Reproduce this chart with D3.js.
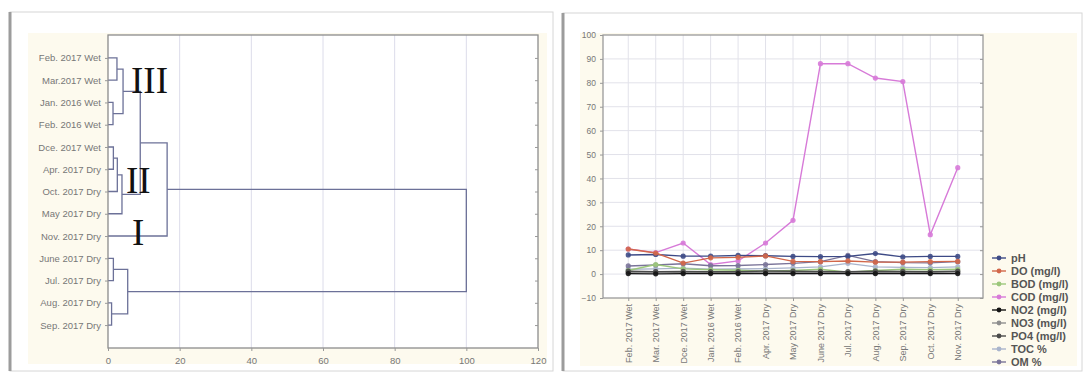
<!DOCTYPE html>
<html>
<head>
<meta charset="utf-8">
<script src="https://cdn.jsdelivr.net/npm/d3@7/dist/d3.min.js"></script>
<style>
  html, body { margin: 0; padding: 0; background: #fff; }
  svg text { font-family: "Liberation Sans", Arial, sans-serif; }
</style>
</head>
<body>
<svg id="chart" width="1085" height="380"></svg>
<script>
// ---------- Dendrogram data ----------
const leafLabels = [
  "Feb. 2017 Wet", "Mar.2017 Wet", "Jan. 2016 Wet", "Feb. 2016 Wet",
  "Dce. 2017 Wet", "Apr. 2017 Dry", "Oct. 2017 Dry", "May 2017 Dry",
  "Nov. 2017 Dry", "June 2017 Dry", "Jul. 2017 Dry", "Aug. 2017 Dry", "Sep. 2017 Dry"
];
// merge steps: [child A, child B, linkage distance]; ids >= 13 refer to earlier merges
const merges = [
  [0, 1, 2.5], [2, 3, 1.4], [13, 14, 4.2],
  [4, 5, 1.5], [16, 6, 2.6], [17, 7, 3.9],
  [15, 18, 9.0], [19, 8, 16.5],
  [9, 10, 1.5], [11, 12, 1.0], [21, 22, 5.5],
  [20, 23, 100]
];
const distTicks = [0, 20, 40, 60, 80, 100, 120];
const clusterNames = ["III", "II", "I"];

// ---------- Water quality data ----------
const months = [
  "Feb. 2017 Wet", "Mar. 2017 Wet", "Dce. 2017 Wet", "Jan. 2016 Wet", "Feb. 2016 Wet",
  "Apr. 2017 Dry", "May 2017 Dry", "June 2017 Dry", "Jul. 2017 Dry", "Aug. 2017 Dry",
  "Sep. 2017 Dry", "Oct. 2017 Dry", "Nov. 2017 Dry"
];
const pH  = [8.0, 8.2, 7.5, 7.5, 7.8, 7.7, 7.4, 7.3, 7.4, 8.6, 7.2, 7.4, 7.4];
const DO  = [10.5, 8.8, 4.6, 6.8, 7.0, 7.6, 5.3, 5.2, 5.5, 5.0, 5.0, 5.2, 5.3];
const BOD = [1.5, 4.0, 2.2, 1.8, 1.6, 1.2, 1.5, 2.0, 0.8, 1.5, 2.0, 1.8, 2.0];
const COD = [10.5, 9.0, 13.0, 4.0, 5.5, 13.0, 22.5, 88.0, 88.0, 82.0, 80.5, 16.5, 44.5];
const NO2 = [0.2, 0.1, 0.2, 0.2, 0.2, 0.2, 0.2, 0.2, 0.2, 0.2, 0.2, 0.2, 0.2];
const NO3 = [0.8, 1.0, 0.6, 0.7, 0.6, 0.8, 0.9, 0.7, 0.8, 0.6, 0.7, 0.8, 0.9];
const PO4 = [1.2, 1.0, 1.1, 1.0, 1.0, 1.3, 1.2, 1.1, 1.0, 1.2, 1.1, 1.0, 1.2];
const TOC = [2.0, 2.2, 2.5, 2.0, 2.1, 2.3, 2.6, 3.0, 4.5, 3.0, 2.8, 2.7, 3.0];
const OM  = [3.4, 3.8, 4.3, 3.5, 3.6, 4.0, 4.5, 5.2, 7.8, 5.2, 4.8, 4.7, 5.2];
const seriesNames = ["pH", "DO (mg/l)", "BOD (mg/l)", "COD (mg/l)", "NO2 (mg/l)", "NO3 (mg/l)", "PO4 (mg/l)", "TOC %", "OM %"];
const seriesValues = [pH, DO, BOD, COD, NO2, NO3, PO4, TOC, OM];
const seriesColors = ["#3d4a86", "#d2674a", "#9cc77c", "#d77ad8", "#141414", "#8e8e8e", "#4a4a4a", "#a9b4cc", "#7a7499"];
const valueTicks = [-10, 0, 10, 20, 30, 40, 50, 60, 70, 80, 90, 100];

const svg = d3.select("#chart");
const cream = "#fdfaee";

// ---------- panel frames ----------
function panel(x, y, w, h) {
  svg.append("rect").attr("x", x).attr("y", y).attr("width", w).attr("height", h)
    .attr("fill", "#fff").attr("stroke", "#d6d6d6").attr("stroke-width", 1);
  svg.append("line").attr("x1", x).attr("x2", x).attr("y1", y).attr("y2", y + h)
    .attr("stroke", "#9c9c9c").attr("stroke-width", 3);
}
panel(10, 12, 543, 359);
panel(563, 13, 519, 358);
svg.append("rect").attr("x", 28).attr("y", 33).attr("width", 519).attr("height", 331).attr("fill", cream);
svg.append("rect").attr("x", 580).attr("y", 33).attr("width", 497).attr("height", 333).attr("fill", cream);

// ---------- Dendrogram ----------
const dL = 108, dR = 538, dT = 35, dB = 348;
const dx = d3.scaleLinear().domain([0, 120]).range([dL, dR]);
const dy = d3.scalePoint().domain(leafLabels).range([dT, dB]).padding(1.03);

svg.append("rect").attr("x", dL).attr("y", dT).attr("width", dR - dL).attr("height", dB - dT)
  .attr("fill", "#fff");

const dg = svg.append("g");
// vertical grid
dg.selectAll("line.grid").data(distTicks.slice(1, -1)).join("line")
  .attr("x1", d => dx(d)).attr("x2", d => dx(d)).attr("y1", dT).attr("y2", dB)
  .attr("stroke", "#dcdcea").attr("stroke-width", 1);

// node positions: leaves on the axis, each merge at the midpoint of its children
const nodes = leafLabels.map(l => ({ x: dx(0), y: dy(l) }));
const links = [];
merges.forEach(([a, b, h]) => {
  const A = nodes[a], B = nodes[b], px = dx(h);
  links.push([[A.x, A.y], [px, A.y], [px, B.y], [B.x, B.y]]);
  nodes.push({ x: px, y: (A.y + B.y) / 2 });
});
const line = d3.line();
dg.selectAll("path.link").data(links).join("path")
  .attr("d", line).attr("fill", "none")
  .attr("stroke", "#6c7198").attr("stroke-width", 1.3);

svg.append("rect").attr("x", dL).attr("y", dT).attr("width", dR - dL).attr("height", dB - dT)
  .attr("fill", "none").attr("stroke", "#8c8c8c").attr("stroke-width", 1.3);

// axes
const dyAxis = svg.append("g").attr("transform", `translate(${dL},0)`)
  .call(d3.axisLeft(dy).tickSize(3).tickPadding(4));
const dyAxisR = svg.append("g").attr("transform", `translate(${dR},0)`)
  .call(d3.axisLeft(dy).tickSize(3).tickFormat(""));
const dxAxis = svg.append("g").attr("transform", `translate(0,${dB})`)
  .call(d3.axisBottom(dx).tickValues(distTicks).tickSize(3).tickPadding(6));
[dyAxis, dyAxisR, dxAxis].forEach(g => {
  g.select(".domain").remove();
  g.selectAll(".tick line").attr("stroke", "#999");
  g.selectAll("text").attr("fill", "#777").attr("font-size", 9.5);
});

// cluster names
const romanPos = [[131, 93], [126, 193], [132, 245]];
clusterNames.forEach((t, i) => {
  svg.append("text").text(t)
    .attr("x", romanPos[i][0]).attr("y", romanPos[i][1])
    .style("font-family", "'Liberation Serif', 'Times New Roman', serif")
    .attr("font-size", 37).attr("fill", "#111");
});

// ---------- Line chart ----------
const cL = 603, cR = 983, cT = 35, cB = 298;
const cx = d3.scalePoint().domain(months).range([cL, cR]).padding(0.92);
const cy = d3.scaleLinear().domain([-10, 100]).range([cB, cT]);

svg.append("rect").attr("x", cL).attr("y", cT).attr("width", cR - cL).attr("height", cB - cT)
  .attr("fill", "#fff");
const cg = svg.append("g");
cg.selectAll("line.hg").data(valueTicks.slice(1, -1)).join("line")
  .attr("x1", cL).attr("x2", cR).attr("y1", d => cy(d)).attr("y2", d => cy(d))
  .attr("stroke", "#e2e2ea");
cg.selectAll("line.vg").data(months).join("line")
  .attr("x1", d => cx(d)).attr("x2", d => cx(d)).attr("y1", cT).attr("y2", cB)
  .attr("stroke", "#e2e2ea");

const sLine = d3.line().x((d, i) => cx(months[i])).y(d => cy(d));
// COD first so the flat series sit on top near the baseline
const order = [3, 7, 8, 0, 1, 2, 5, 6, 4];
order.forEach(k => {
  const g = cg.append("g");
  g.append("path").datum(seriesValues[k]).attr("d", sLine)
    .attr("fill", "none").attr("stroke", seriesColors[k]).attr("stroke-width", 1.4);
  g.selectAll("circle").data(seriesValues[k]).join("circle")
    .attr("cx", (d, i) => cx(months[i])).attr("cy", d => cy(d)).attr("r", 2.6)
    .attr("fill", seriesColors[k]).attr("opacity", 0.9);
});

svg.append("rect").attr("x", cL).attr("y", cT).attr("width", cR - cL).attr("height", cB - cT)
  .attr("fill", "none").attr("stroke", "#9a9a9a").attr("stroke-width", 1.3);

const cyAxis = svg.append("g").attr("transform", `translate(${cL},0)`)
  .call(d3.axisLeft(cy).tickValues(valueTicks).tickSize(3).tickPadding(4));
const cyAxisR = svg.append("g").attr("transform", `translate(${cR},0)`)
  .call(d3.axisLeft(cy).tickValues(valueTicks).tickSize(3).tickFormat(""));
const cxAxis = svg.append("g").attr("transform", `translate(0,${cB})`)
  .call(d3.axisBottom(cx).tickSize(3));
cxAxis.selectAll("text")
  .attr("transform", "rotate(-90)")
  .attr("text-anchor", "end")
  .attr("x", -6).attr("y", 0).attr("dy", "0.32em");
[cyAxis, cyAxisR].forEach(g => g.selectAll("text").attr("font-size", 8.5));
cxAxis.selectAll("text").attr("font-size", 9);
[cyAxis, cyAxisR, cxAxis].forEach(g => {
  g.select(".domain").remove();
  g.selectAll(".tick line").attr("stroke", "#999");
  g.selectAll("text").attr("fill", "#777");
});

// legend
const lg = svg.append("g").attr("transform", "translate(992,258)");
seriesNames.forEach((name, k) => {
  const row = lg.append("g").attr("transform", `translate(0,${k * 13})`);
  row.append("line").attr("x1", 0).attr("x2", 14).attr("y1", 0).attr("y2", 0)
    .attr("stroke", seriesColors[k]).attr("stroke-width", 1.4);
  row.append("circle").attr("cx", 7).attr("cy", 0).attr("r", 2.4).attr("fill", seriesColors[k]);
  row.append("text").attr("x", 19).attr("y", 0).attr("dy", "0.35em")
    .attr("font-size", 11).attr("font-weight", "bold").attr("fill", "#555").text(name);
});
</script>
</body>
</html>
